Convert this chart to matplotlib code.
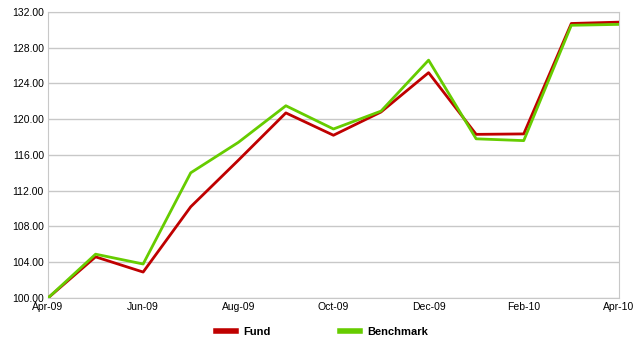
import matplotlib.pyplot as plt

plt.rcParams['font.family'] = ['Liberation Sans', 'DejaVu Sans']

months = ['Apr-09', 'May-09', 'Jun-09', 'Jul-09', 'Aug-09', 'Sep-09', 'Oct-09',
          'Nov-09', 'Dec-09', 'Jan-10', 'Feb-10', 'Mar-10', 'Apr-10']
fund = [100.0, 104.6, 102.9, 110.2, 115.4, 120.7, 118.2, 120.8, 125.2, 118.3, 118.35, 130.7, 130.85]
benchmark = [100.0, 104.9, 103.8, 114.0, 117.4, 121.5, 118.9, 120.9, 126.6, 117.8, 117.6, 130.5, 130.6]

fig = plt.figure(figsize=(6.4, 3.39), dpi=100)
ax = fig.add_axes([0.075, 0.121, 0.892, 0.844])

x = range(len(months))
ax.plot(x, fund, color='#bf0000', lw=2.0, label='Fund', zorder=3)
ax.plot(x, benchmark, color='#66cc00', lw=2.0, label='Benchmark', zorder=3)

ax.set_xlim(0, len(months) - 1)
ax.set_ylim(100, 132)
ax.set_yticks(range(100, 133, 4))
ax.set_yticklabels([f'{v:.2f}' for v in range(100, 133, 4)], fontsize=7.5)
ax.set_xticks(list(x)[::2])
ax.set_xticklabels(months[::2], fontsize=7.5)
ax.tick_params(length=0, pad=3)
ax.grid(axis='y', color='#c8c8c8', lw=1)
for s in ax.spines.values():
    s.set_color('#c8c8c8')
ax.set_axisbelow(True)

leg = ax.legend(loc='upper center', bbox_to_anchor=(0.48, -0.082), ncol=2, frameon=False,
                prop={'weight': 'bold', 'size': 8}, handlelength=1.8, handletextpad=0.6,
                columnspacing=6.3, borderpad=0)
for line in leg.get_lines():
    line.set_linewidth(4)

fig.savefig('out.png', dpi=100)
